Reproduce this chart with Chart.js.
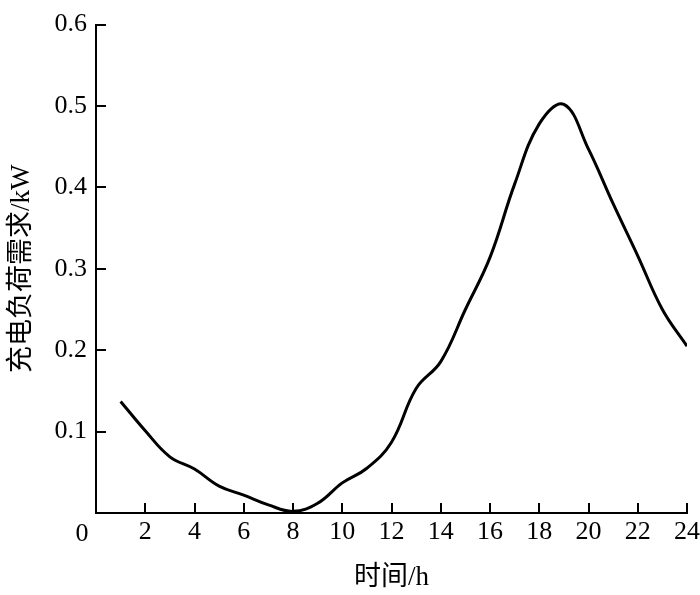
<!DOCTYPE html>
<html>
<head>
<meta charset="utf-8">
<script src="https://cdn.jsdelivr.net/npm/chart.js@4.4.0/dist/chart.umd.min.js"></script>
<style>
  html, body { margin: 0; padding: 0; background: #fff; }
  #wrap { width: 700px; height: 595px; }
</style>
</head>
<body>
<div id="wrap"><canvas id="chart" width="700" height="595"></canvas></div>
<script>
// hours and charging load (kW)
const hours = [1, 2, 3, 4, 5, 6, 7, 8, 9, 10, 11, 12, 13, 14, 15, 16, 17, 18, 19, 20, 21, 22, 23, 24];
const load = [0.137, 0.101, 0.069, 0.054, 0.033, 0.022, 0.010, 0.002, 0.012, 0.037, 0.055, 0.087,
              0.153, 0.186, 0.250, 0.314, 0.404, 0.478, 0.502, 0.447, 0.380, 0.316, 0.250, 0.205];
const xTicks = [0, 2, 4, 6, 8, 10, 12, 14, 16, 18, 20, 22, 24];
const yTicks = [0.1, 0.2, 0.3, 0.4, 0.5, 0.6];

const serif = '"Liberation Serif", "Times New Roman", "Noto Sans CJK SC", serif';

// ticks drawn inward, like the original figure
const innerTicks = {
    id: 'innerTicks',
    afterDraw(chart) {
        const ctx = chart.ctx;
        const x = chart.scales.x, y = chart.scales.y;
        const len = 10;
        ctx.save();
        ctx.strokeStyle = '#000';
        ctx.lineWidth = 2;
        ctx.beginPath();
        xTicks.forEach(v => {
            if (v === 0) return;
            const px = Math.round(x.getPixelForValue(v));
            ctx.moveTo(px, y.bottom);
            ctx.lineTo(px, y.bottom - len);
        });
        yTicks.forEach(v => {
            const py = Math.round(y.getPixelForValue(v));
            ctx.moveTo(x.left, py);
            ctx.lineTo(x.left + len, py);
        });
        ctx.stroke();
        // origin label sits at the corner
        ctx.fillStyle = '#000';
        ctx.font = '26px ' + serif;
        ctx.textAlign = 'center';
        ctx.textBaseline = 'middle';
        ctx.fillText('0', x.left - 14, y.bottom + 21);
        ctx.restore();
    }
};

new Chart(document.getElementById('chart'), {
    type: 'line',
    data: {
        datasets: [{
            data: hours.map((h, i) => ({x: h, y: load[i]})),
            borderColor: '#000',
            borderWidth: 3,
            pointRadius: 0,
            tension: 0.4,
            fill: false
        }]
    },
    options: {
        responsive: false,
        animation: false,
        layout: {
            padding: {top: 19, right: 0, left: 0, bottom: 0}
        },
        plugins: {
            legend: {display: false},
            tooltip: {enabled: false}
        },
        scales: {
            x: {
                type: 'linear',
                min: 0,
                max: 24,
                afterFit: s => { s.height = 82; s.paddingRight = 13; s.paddingLeft = 0; },
                afterBuildTicks: s => { s.ticks = xTicks.map(v => ({value: v})); },
                grid: {display: false, drawTicks: false},
                border: {display: true, color: '#000', width: 2},
                ticks: {
                    color: '#000',
                    padding: 4,
                    maxRotation: 0,
                    font: {family: serif, size: 26},
                    callback: v => v === 0 ? '' : String(v)
                },
                title: {
                    display: true,
                    text: '时间/h',
                    color: '#000',
                    font: {family: serif, size: 27},
                    padding: {top: 0, bottom: 1}
                }
            },
            y: {
                min: 0,
                max: 0.6,
                afterFit: s => { s.width = 96; },
                afterBuildTicks: s => { s.ticks = [0].concat(yTicks).map(v => ({value: v})); },
                grid: {display: false, drawTicks: false},
                border: {display: true, color: '#000', width: 2},
                ticks: {
                    color: '#000',
                    padding: 9,
                    font: {family: serif, size: 26},
                    callback: v => v === 0 ? '' : v.toFixed(1)
                },
                title: {
                    display: true,
                    text: '充电负荷需求/kW',
                    color: '#000',
                    font: {family: serif, size: 27},
                    padding: {top: 6, bottom: 0}
                }
            }
        }
    },
    plugins: [innerTicks]
});
</script>
</body>
</html>
